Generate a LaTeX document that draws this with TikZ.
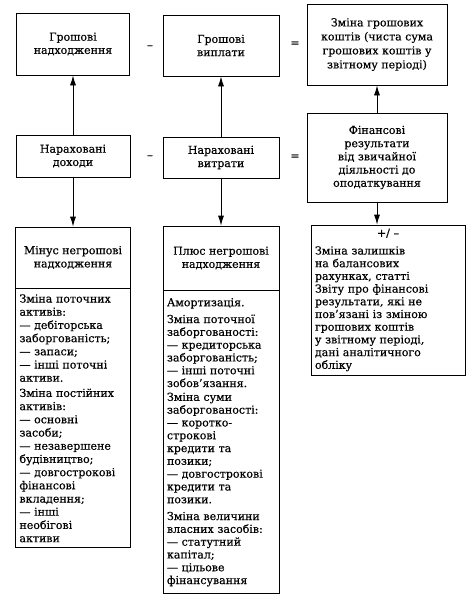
\documentclass[tikz,border=0pt]{standalone}
\usepackage{fontspec}
\setmainfont{DejaVu Serif}[FakeBold=0.5]
\usetikzlibrary{arrows.meta}
\begin{document}
\begin{tikzpicture}[x=1pt, y=-1pt,
  every node/.style={font=\fontsize{11}{13.2}\selectfont},
  box/.style={draw, line width=0.8pt, align=center, inner sep=2pt},
  spis/.style={draw, line width=0.8pt, align=left, anchor=north, inner xsep=4pt, inner ysep=3pt},
  arr/.style={line width=0.8pt, -{Latex[length=10pt,width=6pt]}}]
  \useasboundingbox (0,0) rectangle (473,605);
  % Грошові потоки
  \node[box, minimum width=113pt, minimum height=62pt] (gn) at (73,44) {Грошові\\надходження};
  \node[box, minimum width=116pt, minimum height=61pt] (gv) at (221,45.5) {Грошові\\виплати};
  \node[box, minimum width=140pt, minimum height=81pt, font=\fontsize{11}{14}\selectfont] (zk) at (377,44.5)
    {Зміна грошових\\коштів (чиста сума\\грошових коштів у\\звітному періоді)};
  \node (m1) at (150,47) {–};
  \node (r1) at (295,44) {=};
  % Нараховані доходи і витрати
  \node[box, minimum width=114pt, minimum height=42pt] (nd) at (73,156) {Нараховані\\доходи};
  \node[box, minimum width=116pt, minimum height=41pt] (nv) at (221,157.5) {Нараховані\\витрати};
  \node[box, minimum width=140pt, minimum height=89pt] (fr) at (377,157.5)
    {Фінансові\\результати\\від звичайної\\діяльності до\\оподаткування};
  \node (m2) at (150,157) {–};
  \node (r2) at (295,157) {=};
  % Коригування
  \node[box, minimum width=115pt, minimum height=61pt] (mn) at (73,257.5) {Мінус негрошові\\надходження};
  \node[spis, text width=107pt, minimum height=259pt] (mns) at (mn.south)
    {Зміна поточних\\активів:\\— дебіторська\\заборгованість;\\— запаси;\\— інші поточні\\активи.\\[2pt]
     Зміна постійних\\активів:\\— основні\\засоби;\\— незавершене\\будівництво;\\— довгострокові\\фінансові\\вкладення;\\— інші\\необігові\\активи};
  \node[box, minimum width=116pt, minimum height=64pt] (pn) at (221,258) {Плюс негрошові\\надходження};
  \node[spis, text width=108pt, minimum height=303pt, font=\fontsize{11}{12.8}\selectfont] (pns) at (pn.south)
    {Амортизація.\\[4pt]
     Зміна поточної\\заборгованості:\\— кредиторська\\заборгованість;\\— інші поточні\\зобов’язання.\\[1pt]
     Зміна суми\\заборгованості:\\— коротко-\\строкові\\кредити та\\позики;\\— довгострокові\\кредити та\\позики.\\[4pt]
     Зміна величини\\власних засобів:\\— статутний\\капітал;\\— цільове\\фінансування};
  \node[draw, line width=0.8pt, text width=146pt, minimum height=150pt, inner xsep=4pt, inner ysep=2pt,
    font=\fontsize{11}{12.7}\selectfont] (zz) at (388,300)
    {\centering +/ –\par\vspace{5pt}\raggedright
     Зміна залишків\\на балансових\\рахунках, статті\\Звіту про фінансові\\результати, які не\\пов’язані із зміною\\грошових коштів\\у звітному періоді,\\дані аналітичного\\обліку\par};
  % Стрілки
  \draw[arr] (nd) -- (gn);
  \draw[arr] (nd) -- (mn);
  \draw[arr] (nv) -- (gv);
  \draw[arr] (nv) -- (pn);
  \draw[arr] (fr) -- (zk);
  \draw[arr] (fr.south) -- (fr.south |- zz.north);
\end{tikzpicture}
\end{document}
